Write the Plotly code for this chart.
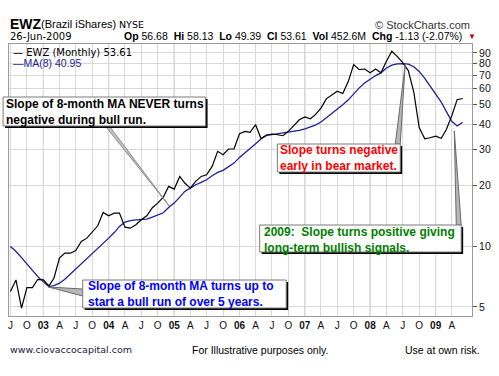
import math
import pandas as pd
import plotly.graph_objects as go

# ---------------- data ----------------
months = pd.date_range("2002-07-01", periods=84, freq="MS")

ewz_close = [
    5.96, 6.80, 4.93, 6.23, 6.23, 6.85, 6.80, 6.35, 6.93, 8.71,
    9.22, 9.22, 9.50, 10.53, 10.94, 11.80, 12.59, 14.66, 14.11, 14.54,
    14.54, 12.40, 12.26, 12.74, 13.48, 14.11, 15.46, 16.30, 17.42, 19.71,
    19.12, 22.09, 20.48, 19.34, 20.87, 22.09, 22.51, 24.76, 29.38, 28.28,
    30.17, 30.17, 35.90, 36.90, 36.50, 39.80, 34.00, 35.40, 35.80, 35.50,
    35.10, 36.90, 39.60, 42.10, 43.50, 42.60, 44.60, 48.10, 53.40, 56.00,
    58.20, 56.70, 65.20, 78.90, 74.50, 75.00, 71.80, 75.00, 71.80, 81.90,
    91.80, 86.40, 80.70, 73.70, 57.50, 38.50, 33.90, 34.30, 34.90, 34.10,
    37.60, 44.10, 52.90, 53.61,
]

ma8 = [
    9.95, 9.40, 8.77, 8.16, 7.56, 7.06, 6.65, 6.30, 6.38, 6.55,
    6.86, 7.28, 7.71, 8.16, 8.64, 9.12, 9.65, 10.25, 10.94, 11.66,
    12.50, 13.13, 13.37, 13.48, 13.48, 13.59, 13.90, 14.20, 14.60, 15.51,
    16.30, 17.46, 18.62, 19.34, 20.09, 20.63, 21.27, 22.26, 23.12, 23.66,
    24.76, 25.70, 27.42, 29.03, 30.50, 32.06, 33.80, 35.20, 35.50, 35.80,
    36.20, 36.50, 36.80, 37.30, 37.90, 38.80, 39.60, 41.00, 43.00, 45.00,
    47.50, 50.00, 52.80, 56.50, 60.50, 64.00, 67.00, 69.60, 71.80, 75.90,
    78.30, 79.50, 79.80, 79.30, 77.00, 73.00, 67.50, 61.50, 56.50, 51.50,
    46.30, 41.40, 39.20, 40.95,
]

y_ticks = [5, 10, 20, 30, 40, 50, 60, 70, 80, 90]

x_tick_dates = [
    "2002-07-01", "2002-10-01",
    "2003-01-01", "2003-04-01", "2003-07-01", "2003-10-01",
    "2004-01-01", "2004-04-01", "2004-07-01", "2004-10-01",
    "2005-01-01", "2005-04-01", "2005-07-01", "2005-10-01",
    "2006-01-01", "2006-04-01", "2006-07-01", "2006-10-01",
    "2007-01-01", "2007-04-01", "2007-07-01", "2007-10-01",
    "2008-01-01", "2008-04-01", "2008-07-01", "2008-10-01",
    "2009-01-01", "2009-04-01",
]
x_tick_text = [
    "J", "O",
    "<b>03</b>", "A", "J", "O",
    "<b>04</b>", "A", "J", "O",
    "<b>05</b>", "A", "J", "O",
    "<b>06</b>", "A", "J", "O",
    "<b>07</b>", "A", "J", "O",
    "<b>08</b>", "A", "J", "O",
    "<b>09</b>", "A",
]
year_lines = ["2003-01-01", "2004-01-01", "2005-01-01", "2006-01-01",
              "2007-01-01", "2008-01-01", "2009-01-01"]

# ---------------- layout helpers ----------------
W, H = 499, 376
L, R, T, B = 8, 479, 44, 316


def px(x):
    return (x - L) / (R - L)


def py(y):
    return (B - y) / (B - T)


ARIAL = "Liberation Sans, Arial, sans-serif"
VERD = "DejaVu Sans, Verdana, sans-serif"

fig = go.Figure()
fig.add_trace(go.Scatter(x=months, y=ma8, mode="lines",
                         line=dict(color="#1e1e96", width=1.3),
                         hoverinfo="skip", showlegend=False))
fig.add_trace(go.Scatter(x=months, y=ewz_close, mode="lines",
                         line=dict(color="#000000", width=1.2),
                         hoverinfo="skip", showlegend=False))

shapes = []
for d in year_lines:
    shapes.append(dict(type="line", xref="x", yref="paper", x0=d, x1=d, y0=0, y1=1,
                       line=dict(color="#b0b0b0", width=1), layer="below"))


def wedge(p1, tip, p2, fill="#b8b8b8", edge="#6a6a6a"):
    path = "M {},{} L {},{} L {},{} Z".format(px(p1[0]), py(p1[1]), px(tip[0]), py(tip[1]),
                                              px(p2[0]), py(p2[1]))
    shapes.append(dict(type="path", xref="paper", yref="paper", path=path,
                       fillcolor=fill, line=dict(color=edge, width=1)))


def box(x0, y0, x1, y1):
    shapes.append(dict(type="rect", xref="paper", yref="paper",
                       x0=px(x0 + 2), x1=px(x1 + 2), y0=py(y0 + 2), y1=py(y1 + 2),
                       fillcolor="#000000", line=dict(width=0)))
    shapes.append(dict(type="rect", xref="paper", yref="paper",
                       x0=px(x0), x1=px(x1), y0=py(y0), y1=py(y1),
                       fillcolor="#ffffff", line=dict(color="#7a7a7a", width=1)))


# wedges (callout pointers)
wedge((106, 126), (171, 206), (110, 126), fill="#c4c4c4", edge="#8a8a8a")
wedge((401, 144), (411, 65), (406, 144))
wedge((463, 225), (461, 131), (468, 225))
wedge((83, 289), (48, 287), (83, 296))

# callout boxes
box(2, 97, 208, 126)
box(281, 144, 406, 172)
box(263, 225, 468, 252)
box(83, 280, 290, 308)

ann = []


def text(x, y, s, size=10, color="#000", family=ARIAL, xanchor="left", yanchor="middle"):
    ann.append(dict(x=px(x), y=py(y), xref="paper", yref="paper", text=s, showarrow=False,
                    xanchor=xanchor, yanchor=yanchor, align="left",
                    font=dict(family=family, size=size, color=color)))


# callout texts
text(3, 111.5, "<b>Slope of 8-month MA NEVER turns<br>negative during bull run.</b>", 12, "#000000")
text(282, 158, "<b>Slope turns negative<br>early in bear market.</b>", 12, "#ff0000")
text(265, 239.5, "<b>2009:&nbsp; Slope turns positive giving<br>long-term bullish signals.</b>", 12, "#008000")
text(86, 293.5, "<b>Slope of 8-month MA turns up to<br>start a bull run of over 5 years.</b>", 12, "#0000ff")

# header
text(7, 24, "<b>EWZ</b>", 14, "#000000")
text(39, 24.5, "(Brazil iShares)", 11, "#000000")
text(118, 24.5, "NYSE", 9.5, "#000000", family=VERD)
text(7, 36, "26-Jun-2009", 10, "#000000", family=VERD)
text(471, 36, "<b>Op</b> 56.68  <b>Hi</b> 58.13  <b>Lo</b> 49.39  <b>Cl</b> 53.61  "
              "<b>Vol</b> 452.6M  <b>Chg</b> -1.13 (-2.07%)", 10.5, "#000000",
     xanchor="right")
text(473, 36.5, "▼", 8, "#a0002a")
text(479, 25, "© StockCharts.com", 11, "#333333", xanchor="right")

# legend-like labels
text(10, 52, "— EWZ (Monthly) 53.61", 10, "#000000", family=VERD)
text(10, 63, "—MA(8) 40.95", 10.5, "#1e1e96")

# footer
text(7, 349, "www.ciovaccocapital.com", 9.5, "#202040", family=VERD)
text(192, 350, "For Illustrative purposes only.", 10.5, "#000000")
text(409, 350, "Use at own risk.", 10.5, "#000000")

fig.update_layout(
    width=W, height=H,
    margin=dict(l=L, r=W - R, t=T, b=H - B, pad=0),
    paper_bgcolor="#ffffff", plot_bgcolor="#ffffff",
    shapes=shapes, annotations=ann,
    xaxis=dict(type="date", range=["2002-06-23", "2009-07-23"],
               tickvals=x_tick_dates, ticktext=x_tick_text,
               tickfont=dict(family=ARIAL, size=10, color="#111111"),
               showgrid=True, gridcolor="#d9d9d9", gridwidth=1,
               showline=True, mirror=True, linecolor="#9a9a9a", linewidth=1,
               ticks="", zeroline=False, fixedrange=True),
    yaxis=dict(type="log", range=[math.log10(4.51), math.log10(99.7)],
               side="right", tickvals=y_ticks, ticktext=[str(v) for v in y_ticks],
               tickfont=dict(family=ARIAL, size=10.5, color="#111111"),
               showgrid=True, gridcolor="#d9d9d9", gridwidth=1,
               showline=True, mirror=True, linecolor="#9a9a9a", linewidth=1,
               ticks="outside", ticklen=4, tickcolor="#555555",
               zeroline=False, fixedrange=True),
)

fig.write_html(
    "out.html",
    config={"displayModeBar": False},
    post_script="document.body.style.margin='0';document.body.style.overflow='hidden';",
)
